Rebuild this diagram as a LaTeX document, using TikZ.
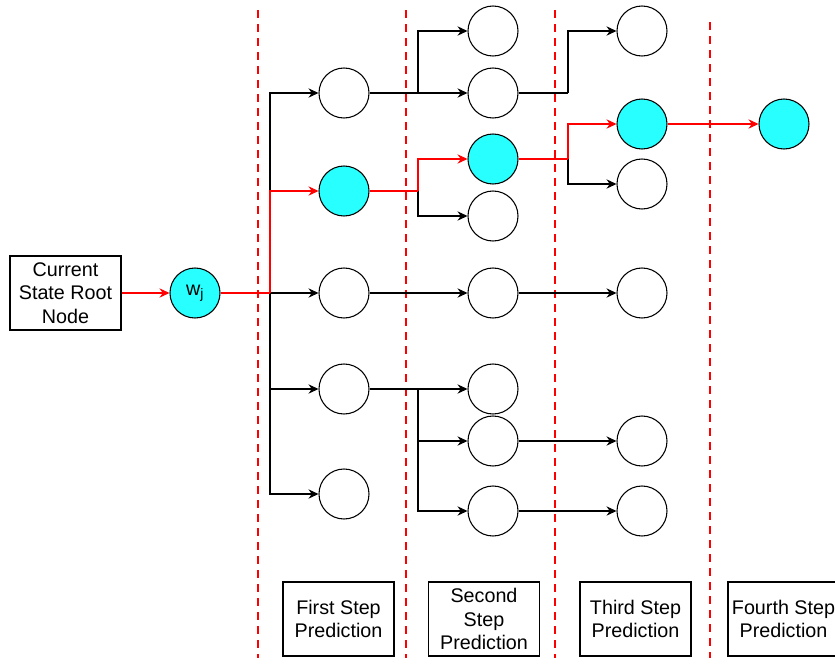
\documentclass[tikz,border=0pt]{standalone}
\usepackage{fontspec}
\setmainfont{Liberation Sans}
\usetikzlibrary{arrows.meta}
\definecolor{hitcyan}{RGB}{40,255,255}
\begin{document}
\begin{tikzpicture}[x = .75pt, y = -.75pt, font = \fontsize{14.8}{17.6}\selectfont,
		cell/.style = {circle, draw, line width = .8pt, minimum size = 37.5pt, inner sep = 0pt},
		best/.style = {cell, fill = hitcyan},
		stepbox/.style = {draw, line width = .8pt, minimum width = 83.25pt, minimum height = 55.5pt, inner sep = 0pt, align = center},
		link/.style = {line width = .8pt, -{Stealth[length = 7.5pt, width = 7pt, inset = 2.5pt]}},
		hot/.style = {link, red}]
	\useasboundingbox (0, 0) rectangle (835, 668);
	% step borders
	\foreach \x/\t in {258/10, 406/10, 555/10, 710/22}
	\draw[red, line width = 1.9pt, dash pattern = on 6pt off 4.5pt] (\x, \t)--(\x, 658);
	% root and predicted states
	\node[stepbox] (root) at (65.5, 293) {Current\\State Root\\Node};
	\node[best] (w) at (195, 293) {w\textsubscript{j}};
	\foreach \n/\x/\y in {f1/344/93, f3/344/293, f4/344/389, f5/344/494,
		s1/493/31, s2/493/93, s4/493/216, s5/493/293, s6/493/389, s7/493/441, s8/493/511,
		t1/642/31, t3/642/184, t4/642/293, t5/642/441, t6/642/511}
	\node[cell] (\n) at (\x, \y) {};
	\foreach \n/\x/\y in {f2/344/191, s3/493/159, t2/642/124, q1/784/124}
	\node[best] (\n) at (\x, \y) {};
	\foreach \n/\x/\y in {j0/270/293, j1/418/93, j2/418/191, j4/418/389, k2/568/93, k3/568/159}
	\coordinate (\n) at (\x, \y);
	% branches
	\draw[line width = .8pt] (w)--(j0) (f1)--(j1) (f4)--(j4) (s2)--(k2);
	\foreach \a/\b in {j0/f1, j0/f3, j0/f4, j0/f5, j1/s1, j1/s2, j2/s4,
		j4/s6, j4/s7, j4/s8, k2/t1, k3/t3}
	\draw[link] (\a) |- (\b);
	\foreach \a/\b in {f3/s5, s5/t4, s7/t5, s8/t6}
	\draw[link] (\a)--(\b);
	% best path
	\draw[red, line width = .8pt] (w)--(j0) (f2)--(j2) (s3)--(k3);
	\draw[hot] (root)--(w);
	\foreach \a/\b in {j0/f2, j2/s3, k3/t2}
	\draw[hot] (\a) |- (\b);
	\draw[hot] (t2)--(q1);
	% step labels
	\node[stepbox] (l1) at (338.5, 619) {First Step\\Prediction};
	\node[stepbox] (l2) at (484, 619) {Second\\Step\\Prediction};
	\node[stepbox] (l3) at (635.5, 619) {Third Step\\Prediction};
	\node[stepbox] (l4) at (783.5, 619) {Fourth Step\\Prediction};
\end{tikzpicture}
\end{document}
